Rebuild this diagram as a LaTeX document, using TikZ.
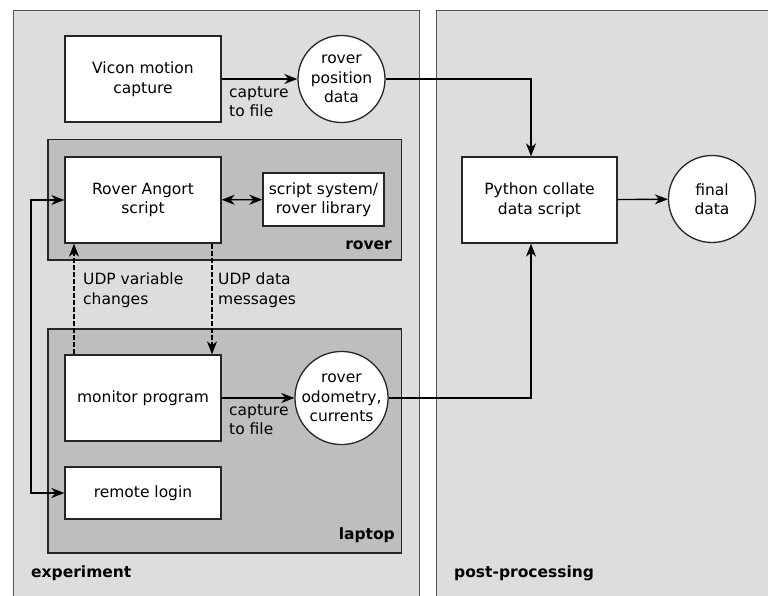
\documentclass[tikz,border=0pt]{standalone}
\usepackage{fontspec}
\setmainfont{DejaVu Sans}
\usetikzlibrary{arrows.meta}
\definecolor{panelgray}{HTML}{DDDDDD}
\definecolor{boxgray}{HTML}{BEBEBE}
\definecolor{panelline}{HTML}{555555}
\begin{document}
\begin{tikzpicture}[x=1pt,y=-1pt,
  font=\fontsize{15.5}{19.5}\selectfont,
  tip/.tip={Stealth[length=13pt,width=10pt,inset=4pt]},
  panel/.style={draw=panelline, fill=panelgray, line width=0.8pt},
  group/.style={draw=black!85, fill=boxgray, line width=1.1pt},
  procbox/.style={draw=black!85, fill=white, line width=1.3pt, align=center, inner sep=0pt},
  datacirc/.style={draw=black!85, fill=white, circle, line width=1.3pt, align=center, inner sep=0pt, minimum size=87pt},
  lbl/.style={anchor=north west, align=left, inner sep=0pt},
  grplbl/.style={font=\fontsize{15.5}{19.5}\selectfont\bfseries, inner sep=0pt},
  arr/.style={line width=1.4pt, -tip},
  dblarr/.style={line width=1.4pt, tip-tip},
  dasharr/.style={line width=1.2pt, dash pattern=on 5pt off 2pt, -tip}
]
\useasboundingbox (0,0) rectangle (768,595);
\fill[white] (0,0) rectangle (768,595);
\clip (0,0) rectangle (768,595);

% panels
\draw[panel] (13.5,10) rectangle (419,620);
\draw[panel] (436,10) rectangle (790,620);

% group boxes
\draw[group] (48,139.5) rectangle (401.5,260);
\draw[group] (48,329) rectangle (401.5,553);

% nodes
\node[procbox, minimum width=156pt, minimum height=86pt] (vicon) at (143,79) {Vicon motion\\capture};
\node[datacirc] (pos) at (341.5,79) {rover\\position\\data};
\node[procbox, minimum width=156pt, minimum height=86pt] (angort) at (143,200) {Rover Angort\\script};
\node[procbox, minimum width=121pt, minimum height=53pt] (lib) at (323.5,199.5) {script system/\\rover library};
\node[procbox, minimum width=156pt, minimum height=86pt] (monitor) at (143,398) {monitor program};
\node[datacirc] (odo) at (341.5,398) {rover\\odometry,\\currents};
\node[procbox, minimum width=156pt, minimum height=52pt] (login) at (143,493) {remote login};
\node[procbox, minimum width=155pt, minimum height=86pt] (py) at (539.5,200) {Python collate\\data script};
\node[datacirc] (final) at (712,199) {final\\data};

% group labels
\node[grplbl, anchor=south east] (lrover) at (392,250) {rover};
\node[grplbl, anchor=south east] (llaptop) at (395,543) {laptop};
\node[grplbl, anchor=south west] (lexp) at (31,581) {experiment};
\node[grplbl, anchor=south west] (lpost) at (454,581) {post-processing};

% edge labels
\node[lbl] (cap1) at (229,86) {capture\\to file};
\node[lbl] (cap2) at (229,404) {capture\\to file};
\node[lbl] (udp1) at (83,273) {UDP variable\\changes};
\node[lbl] (udp2) at (218,273) {UDP data\\messages};

% connectors
\draw[arr] (vicon) -- (pos);
\draw[arr] (monitor) -- (odo);
\draw[dblarr] (angort) -- (lib);
\draw[arr] (py) -- (final);
\draw[arr] (pos.east) -| ([xshift=-8.5pt]py.north);
\draw[arr] (odo.east) -| ([xshift=-8.5pt]py.south);

\coordinate (loopx) at (31,0);
\draw[dblarr] (angort.west) -- (angort.west -| loopx) |- (login.west);

\draw[dasharr] ([xshift=-69pt]monitor.north) -- ([xshift=-69pt]angort.south);
\draw[dasharr] ([xshift=69pt]angort.south) -- ([xshift=69pt]monitor.north);
\end{tikzpicture}
\end{document}
